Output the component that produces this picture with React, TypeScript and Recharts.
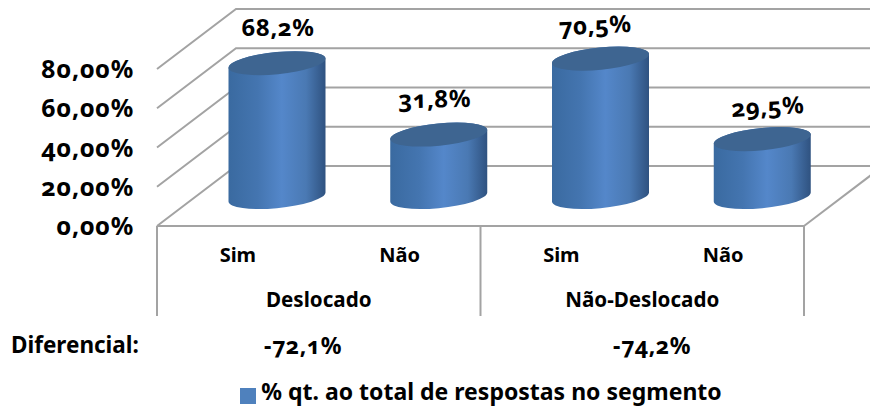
import React from 'react';
import { BarChart, Bar, XAxis, YAxis, CartesianGrid, Legend, LabelList } from 'recharts';

const answers = ['Sim', 'Não', 'Sim', 'Não'];
const groups = ['Deslocado', 'Deslocado', 'Não-Deslocado', 'Não-Deslocado'];
const shares = [68.2, 31.8, 70.5, 29.5];
const yTicks = [0, 20, 40, 60, 80];
const differentials = ['-72,1%', '-74,2%'];
const seriesName = '% qt. ao total de respostas no segmento';

const chartData = answers.map((answer, i) => ({ answer, group: groups[i], share: shares[i] }));

const FONT = '"Noto Sans", sans-serif';
const GRID = '#a3a3a3';
const GRID_W = 2;
const DEPTH_X = 79;
const DEPTH_Y = 60;
const BAND = 647 / 4;
const PLOT_BOTTOM = 226;
// hand-moved data labels in the original
const labelShift = [1, -4, -5, 6];
const labelDrop = [0, 0, 2, 3];
const labelTilt = [0, -1, -3, -3];

const numeric: React.CSSProperties = { fontVariantNumeric: 'oldstyle-nums', fontFamily: FONT, fontWeight: 700 };

const formatComma = (v: number, digits: number) => v.toFixed(digits).replace('.', ',') + '%';

const Cylinder = ({ x, y, width, height }: any) => {
  const cx = x + width / 2 + DEPTH_X / 2;
  const top = y - DEPTH_Y / 2 + 1;
  const bottom = y + height - DEPTH_Y / 2 + 1;
  const hw = width / 2;
  const rx = hw + 0.2;
  const ry = 11.1;
  const arc = `A${rx} ${ry} -5.6 0 0`;
  const d = `M${cx - hw} ${top + 4.5} L${cx - hw} ${bottom + 4.5} ${arc} ${cx + hw} ${bottom - 4.5} L${cx + hw} ${top - 4.5} ${arc} ${cx - hw} ${top + 4.5}Z`;
  return (
    <g>
      <path d={d} fill="url(#cylinderBody)" />
      <ellipse cx={cx} cy={top} rx={rx} ry={ry} fill="#3e6591" transform={`rotate(-5.6 ${cx} ${top})`} />
    </g>
  );
};

const WallLine = ({ x1, y1, x2, index }: any) => (
  <g>
    <polyline
      points={`${x1},${y1} ${x1 + DEPTH_X},${y1 - DEPTH_Y} 880,${y1 - DEPTH_Y}`}
      fill="none"
      stroke={GRID}
      strokeWidth={GRID_W}
    />
    {y1 === PLOT_BOTTOM && (
      <line x1={x2} y1={y1} x2={x2 + DEPTH_X} y2={y1 - DEPTH_Y} stroke={GRID} strokeWidth={GRID_W} key={index} />
    )}
  </g>
);

const ValueTick = ({ y, payload }: any) => (
  <text x={134} y={y + 9} textAnchor="end" fontSize={25} letterSpacing={0.8} style={numeric} fill="#000">
    {formatComma(payload.value, 2)}
  </text>
);

const AnswerTick = ({ x, y, payload }: any) => (
  <text x={x} y={y + 28} textAnchor="middle" fontSize={20} fontFamily={FONT} fontWeight={700} fill="#000">
    {payload.value}
  </text>
);

const GroupTick = ({ x, y, payload, index }: any) => (
  <g>
    {index % 2 === 0 && (
      <text x={x + BAND / 2} y={y + 28} textAnchor="middle" fontSize={20.6} fontFamily={FONT} fontWeight={700} fill="#000">
        {payload.value}
      </text>
    )}
    {index % 2 === 0 && <line x1={x - BAND / 2} x2={x - BAND / 2} y1={PLOT_BOTTOM} y2={316} stroke={GRID} strokeWidth={GRID_W} />}
    {index === answers.length - 1 && <line x1={x + BAND / 2} x2={x + BAND / 2} y1={PLOT_BOTTOM} y2={316} stroke={GRID} strokeWidth={GRID_W} />}
  </g>
);

const ShareLabel = ({ x, y, width, value, index }: any) => {
  const lx = x + width / 2 + DEPTH_X / 2 + labelShift[index];
  const ly = y - DEPTH_Y / 2 - 26 + labelDrop[index];
  return (
    <text x={lx} y={ly} textAnchor="middle" fontSize={24} letterSpacing={0.5} style={numeric} fill="#000" transform={`rotate(${labelTilt[index]} ${lx} ${ly})`}>
      {formatComma(value, 1)}
    </text>
  );
};

export default function App() {
  return (
    <div style={{ position: 'absolute', left: 0, top: 0, width: 870, height: 409, overflow: 'hidden', background: '#fff' }}>
      <BarChart
        width={870}
        height={409}
        data={chartData}
        margin={{ top: 69, right: 66, bottom: 93, left: 0 }}
        barSize={97}
      >
        <defs>
          <linearGradient id="cylinderBody" x1="0" y1="0" x2="1" y2="0">
            <stop offset="0" stopColor="#3a6aa0" />
            <stop offset="0.3" stopColor="#4475b0" />
            <stop offset="0.55" stopColor="#5487ca" />
            <stop offset="0.8" stopColor="#4a79b3" />
            <stop offset="1" stopColor="#2f5280" />
          </linearGradient>
        </defs>
        <CartesianGrid horizontal={(props: any) => <WallLine {...props} key={props.y1} />} vertical={false} />
        <XAxis dataKey="answer" height={45} interval={0} tickLine={false} tick={<AnswerTick />} axisLine={{ stroke: GRID, strokeWidth: GRID_W }} />
        <XAxis dataKey="group" xAxisId="group" height={45} interval={0} tickLine={false} axisLine={false} tick={<GroupTick />} />
        <YAxis domain={[0, 80]} ticks={yTicks} width={157} axisLine={{ stroke: GRID, strokeWidth: GRID_W, strokeOpacity: 0 }} tickLine={false} tick={<ValueTick />} />
        <Legend
          layout="horizontal"
          verticalAlign="middle"
          align="center"
          iconType="square"
          iconSize={16}
          wrapperStyle={{ left: 240, top: 375, width: 492, margin: 0 }}
          formatter={(value: string) => (
            <span style={{ color: '#000', fontFamily: FONT, fontWeight: 700, fontSize: 23, marginLeft: 1, whiteSpace: 'nowrap' }}>{value}</span>
          )}
        />
        <Bar dataKey="share" name={seriesName} fill="#4f81bd" shape={<Cylinder />} isAnimationActive={false}>
          <LabelList dataKey="share" content={<ShareLabel />} />
        </Bar>
      </BarChart>
      <svg width={870} height={409} style={{ position: 'absolute', left: 0, top: 0, pointerEvents: 'none' }}>
        <g fontFamily={FONT} fontWeight={700} fontSize={22.5} fill="#000">
          <text x={11} y={353}>Diferencial:</text>
          <text x={303} y={354} textAnchor="middle" fontSize={23} style={{ fontVariantNumeric: 'oldstyle-nums' }} letterSpacing={0.5}>{differentials[0]}</text>
          <text x={652} y={354} textAnchor="middle" fontSize={23} style={{ fontVariantNumeric: 'oldstyle-nums' }} letterSpacing={0.5}>{differentials[1]}</text>
        </g>
      </svg>
    </div>
  );
}
